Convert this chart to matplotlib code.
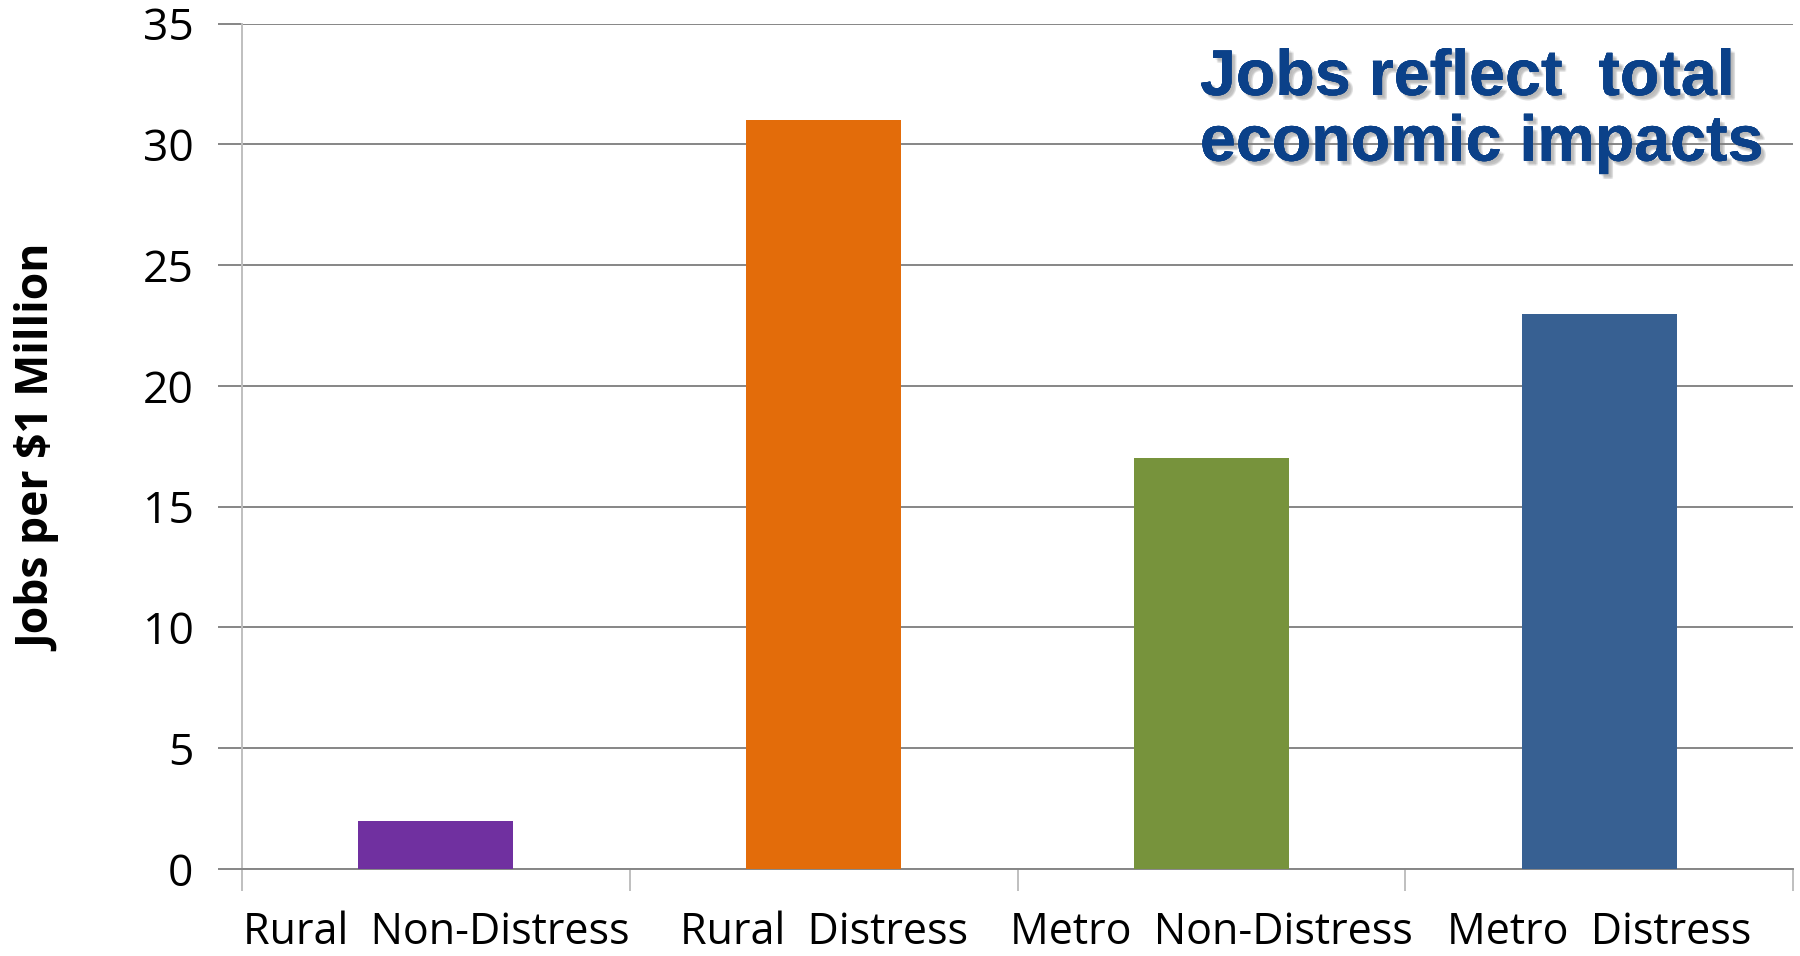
import matplotlib
matplotlib.use("Agg")
import matplotlib.pyplot as plt
import matplotlib.patheffects as pe

categories = ["Rural  Non-Distress", "Rural  Distress", "Metro  Non-Distress", "Metro  Distress"]
jobs = [2, 31, 17, 23]
bar_colors = ["#7030A0", "#E36C0A", "#77933C", "#376092"]
y_ticks = [0, 5, 10, 15, 20, 25, 30, 35]
y_label = "Jobs per $1 Million"
headline = "Jobs reflect  total\neconomic impacts"

W, H, DPI = 1800, 956, 100
fig = plt.figure(figsize=(W / DPI, H / DPI), dpi=DPI)
fig.patch.set_facecolor("white")

left, right, bottom, top = 242, 1793, 869, 23.7
ax = fig.add_axes([left / W, 1 - bottom / H, (right - left) / W, (bottom - top) / H])

x = list(range(len(categories)))
ax.bar(x, jobs, width=0.4, color=bar_colors, zorder=3)

ax.set_xlim(-0.5, len(categories) - 0.5)
ax.set_ylim(0, 35)

# horizontal gridlines
ax.set_yticks(y_ticks)
ax.yaxis.grid(True, color="#868686", linewidth=1.4, zorder=0)
ax.set_axisbelow(True)

for side in ("top", "right"):
    ax.spines[side].set_visible(False)
ax.spines["left"].set_color("#BFBFBF")
ax.spines["left"].set_linewidth(1.4)
ax.spines["bottom"].set_color("#868686")
ax.spines["bottom"].set_linewidth(1.4)

tick_font = "Open Sans"
ax.tick_params(axis="y", length=17, width=1.4, color="#868686", pad=18,
               labelsize=32, labelcolor="black")
for lbl in ax.get_yticklabels():
    lbl.set_fontfamily(tick_font)

# category separators as major ticks, names as minor ticks at bar centres
ax.set_xticks([i - 0.5 for i in range(len(categories) + 1)])
ax.set_xticklabels([])
ax.tick_params(axis="x", which="major", length=16, width=1.4, color="#BFBFBF")
ax.set_xticks(x, minor=True)
ax.set_xticklabels(categories, minor=True, fontfamily=tick_font, fontsize=31)
ax.tick_params(axis="x", which="minor", length=0, pad=30, labelcolor="black")

fig.text(40 / W, 1 - 448 / H, y_label, rotation=90, ha="center", va="center",
         fontsize=32, fontweight="bold", fontfamily=tick_font, color="black")

# soft drop shadow built from a few faint offset copies
shadow = [pe.withSimplePatchShadow(offset=(dx, -dy), shadow_rgbFace="#808080", alpha=0.14)
          for dx, dy in [(1.5, 1.5), (2.5, 2.5), (3.5, 3.5), (2.5, 3.5), (3.5, 2.5)]]
fig.text(1200 / W, 1 - 48 / H, headline, ha="left", va="top",
         fontsize=46.5, fontweight="bold", fontfamily="Liberation Sans",
         color="#0B4189", linespacing=1.12,
         path_effects=shadow[:-1] + [pe.withSimplePatchShadow(offset=(3.5, -2.5), shadow_rgbFace="#808080", alpha=0.14)])

fig.savefig("out.png", dpi=DPI, facecolor="white")
